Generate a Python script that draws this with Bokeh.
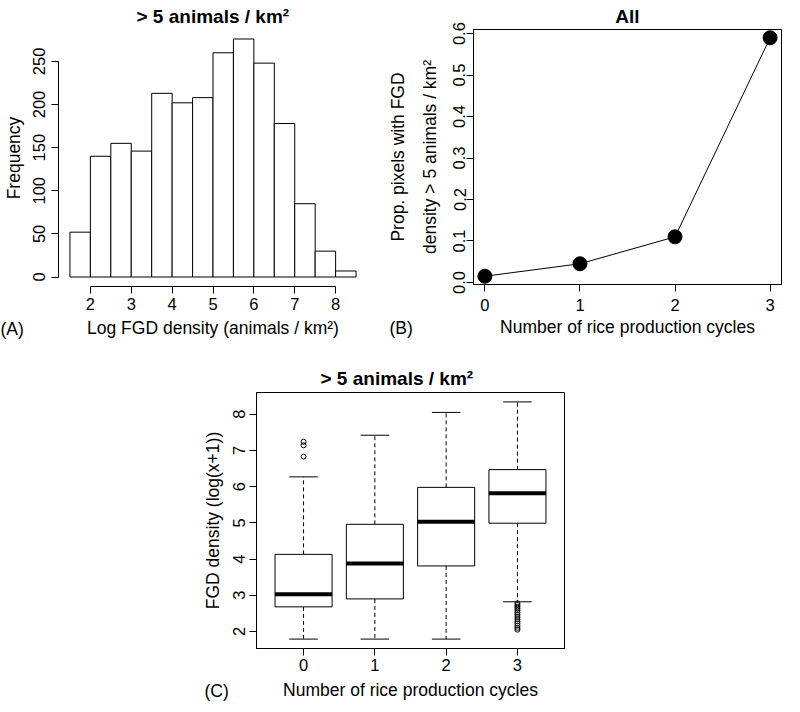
from bokeh.plotting import figure
from bokeh.layouts import column, row
from bokeh.models import (Range1d, FixedTicker, FactorRange, Label, ColumnDataSource,
                          PrintfTickFormatter)
from bokeh.transform import dodge
from bokeh.embed import file_html
from bokeh.resources import INLINE

FONT = "Liberation Sans"
TICK_FS = "16.5px"
LABEL_FS = "17.5px"
TITLE_FS = "19px"

# ---------------- Data ----------------
# (A) histogram of log FGD density (> 5 animals / km2)
hist_breaks = [1.5, 2.0, 2.5, 3.0, 3.5, 4.0, 4.5, 5.0, 5.5, 6.0, 6.5, 7.0, 7.5, 8.0, 8.5]
hist_counts = [52, 140, 155, 146, 213, 202, 208, 260, 276, 248, 178, 85, 30, 7]
hist_xticks = [2, 3, 4, 5, 6, 7, 8]
hist_yticks = [0, 50, 100, 150, 200, 250]

# (B) proportion of pixels with FGD density > 5 animals / km2
cycles_num = [0, 1, 2, 3]
prop_pixels = [0.015, 0.045, 0.11, 0.59]
prop_yticks = [0.0, 0.1, 0.2, 0.3, 0.4, 0.5, 0.6]

# (C) boxplots of FGD density by number of rice production cycles
cycles = ["0", "1", "2", "3"]
whisker_low = [1.79, 1.79, 1.79, 2.82]
q1 = [2.68, 2.90, 3.81, 4.99]
median = [3.03, 3.88, 5.03, 5.82]
q3 = [4.13, 4.96, 5.98, 6.47]
whisker_high = [6.27, 7.42, 8.05, 8.34]
outliers_0 = [6.83, 7.14, 7.24]
outliers_3 = [2.78, 2.73, 2.68, 2.63, 2.58, 2.52, 2.46, 2.40, 2.34, 2.28, 2.22, 2.16, 2.10, 2.05]
box_yticks = [2, 3, 4, 5, 6, 7, 8]


def style_axes(p):
    for ax in list(p.xaxis) + list(p.yaxis):
        ax.axis_line_color = "black"
        ax.major_tick_line_color = "black"
        ax.minor_tick_line_color = None
        ax.major_tick_in = 0
        ax.major_tick_out = 7
        ax.major_label_text_font = FONT
        ax.major_label_text_font_size = TICK_FS
        ax.major_label_text_color = "black"
        ax.axis_label_text_font = FONT
        ax.axis_label_text_font_size = LABEL_FS
        ax.axis_label_text_font_style = "normal"
        ax.axis_label_text_color = "black"
    for ax in p.yaxis:
        ax.major_label_orientation = "vertical"
    p.xgrid.visible = False
    p.ygrid.visible = False
    p.background_fill_color = "white"
    p.border_fill_color = "white"


def style_title(p, align, offset, standoff):
    p.title.align = align
    p.title.offset = offset
    p.title.standoff = standoff
    p.title.text_font = FONT
    p.title.text_font_size = TITLE_FS
    p.title.text_font_style = "bold"
    p.title.text_color = "black"


def panel_label(p, text, x, y):
    # placed in the bottom side panel so that it is not clipped to the frame
    p.add_layout(Label(x=x, y=y, x_units="screen", y_units="screen", text=text,
                       text_font=FONT, text_font_size=LABEL_FS, text_color="black",
                       text_baseline="alphabetic", text_align="left"), "below")


# ---------------- Panel A ----------------
pA = figure(frame_width=309, frame_height=257, min_border_left=58, min_border_right=6,
            min_border_top=28, min_border_bottom=76,
            x_range=Range1d(1.22, 8.78), y_range=Range1d(-11, 287),
            title="> 5 animals / km²", output_backend="svg", toolbar_location=None)
pA.quad(left=hist_breaks[:-1], right=hist_breaks[1:], bottom=0, top=hist_counts,
        fill_color="white", line_color="black", line_width=1)
pA.outline_line_color = None
style_axes(pA)
pA.xaxis.ticker = FixedTicker(ticks=hist_xticks)
pA.xaxis.bounds = (hist_xticks[0], hist_xticks[-1])
pA.xaxis.major_label_standoff = 4
pA.xaxis.axis_label_standoff = 5
pA.yaxis.ticker = FixedTicker(ticks=hist_yticks)
pA.yaxis.bounds = (hist_yticks[0], hist_yticks[-1])
pA.yaxis.major_label_standoff = 6
pA.yaxis.axis_label_standoff = 7
pA.xaxis.axis_label = "Log FGD density (animals / km²)"
pA.yaxis.axis_label = "Frequency"
style_title(pA, "left", 78, 6)
panel_label(pA, "(A)", -58, 32)

# ---------------- Panel B ----------------
pB = figure(frame_width=308, frame_height=255, min_border_left=100, min_border_right=3,
            min_border_top=28, min_border_bottom=78,
            x_range=Range1d(-0.12, 3.12), y_range=Range1d(-0.005, 0.61),
            title="All", output_backend="svg", toolbar_location=None)
pB.line(cycles_num, prop_pixels, line_color="black", line_width=1)
pB.scatter(cycles_num, prop_pixels, marker="circle", size=14,
           fill_color="black", line_color="black")
pB.outline_line_color = "black"
style_axes(pB)
pB.xaxis.ticker = FixedTicker(ticks=cycles_num)
pB.xaxis.major_label_standoff = 7
pB.xaxis.axis_label_standoff = 3
pB.yaxis.ticker = FixedTicker(ticks=prop_yticks)
pB.yaxis.formatter = PrintfTickFormatter(format="%.1f")
pB.yaxis.major_label_standoff = 1
pB.yaxis.axis_label_standoff = 11
pB.yaxis.axis_label_text_line_height = 1.58
pB.xaxis.axis_label = "Number of rice production cycles"
pB.yaxis.axis_label = "Prop. pixels with FGD\ndensity > 5 animals / km²"
style_title(pB, "center", 0, 6)
panel_label(pB, "(B)", -84, 32)

# ---------------- Panel C ----------------
src = ColumnDataSource(dict(cycle=cycles, low=whisker_low, q1=q1, med=median,
                            q3=q3, high=whisker_high))
out_src = ColumnDataSource(dict(cycle=["0"] * len(outliers_0) + ["3"] * len(outliers_3),
                                value=outliers_0 + outliers_3))

pC = figure(frame_width=308, frame_height=256, min_border_left=256, min_border_right=220,
            min_border_top=30, min_border_bottom=40,
            x_range=FactorRange(factors=cycles, range_padding=0.08, range_padding_units="percent"),
            y_range=Range1d(1.53, 8.60),
            title="> 5 animals / km²", output_backend="svg", toolbar_location=None)
pC.segment(x0="cycle", y0="q3", x1="cycle", y1="high", source=src,
           line_color="black", line_dash="4 3", line_width=1)
pC.segment(x0="cycle", y0="q1", x1="cycle", y1="low", source=src,
           line_color="black", line_dash="4 3", line_width=1)
pC.segment(x0=dodge("cycle", -0.2, range=pC.x_range), x1=dodge("cycle", 0.2, range=pC.x_range),
           y0="high", y1="high", source=src, line_color="black", line_width=1)
pC.segment(x0=dodge("cycle", -0.2, range=pC.x_range), x1=dodge("cycle", 0.2, range=pC.x_range),
           y0="low", y1="low", source=src, line_color="black", line_width=1)
pC.vbar(x="cycle", top="q3", bottom="q1", width=0.8, source=src,
        fill_color="white", line_color="black", line_width=1)
pC.segment(x0=dodge("cycle", -0.4, range=pC.x_range), x1=dodge("cycle", 0.4, range=pC.x_range),
           y0="med", y1="med", source=src, line_color="black", line_width=4)
pC.scatter(x="cycle", y="value", source=out_src, marker="circle", size=5,
           fill_color=None, line_color="black", line_width=1)
pC.outline_line_color = "black"
style_axes(pC)
pC.yaxis.ticker = FixedTicker(ticks=box_yticks)
pC.yaxis.major_label_standoff = 4
pC.yaxis.axis_label_standoff = 8
pC.xaxis.major_label_standoff = 3
pC.xaxis.axis_label_standoff = 6
pC.xaxis.axis_label = "Number of rice production cycles"
pC.yaxis.axis_label = "FGD density (log(x+1))"
style_title(pC, "left", 64, 7)
panel_label(pC, "(C)", -52, 32)

layout = column(row(pA, pB), pC)
open("out.html", "w").write(file_html(layout, INLINE))
